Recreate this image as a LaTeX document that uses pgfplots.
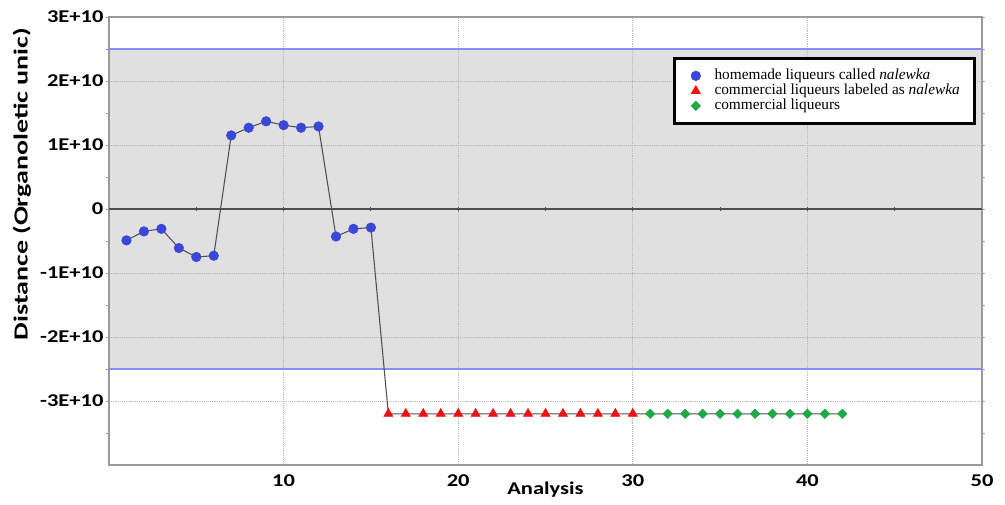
\documentclass[border=0pt]{standalone}
\usepackage{pgfplots}
\pgfplotsset{compat=1.18}
\usepackage{pgfplotstable}
\usepackage{fontspec}
\setmainfont{Liberation Serif}
\newfontfamily\labfont[FakeStretch=1.25]{Carlito}
\newfontfamily\ylabfont[FakeStretch=1.4]{Carlito}

\definecolor{band}{HTML}{E0E0E0}
\definecolor{limit}{HTML}{8C8CF5}
\definecolor{ptblue}{HTML}{3A48D8}
\definecolor{ptred}{HTML}{EE1111}
\definecolor{ptgreen}{HTML}{1FA846}
\definecolor{conn}{HTML}{505050}
\definecolor{frame}{HTML}{9A9A9A}

% analysis number, distance
\pgfplotstableread{
x y
1 -4.9e9
2 -3.5e9
3 -3.1e9
4 -6.1e9
5 -7.5e9
6 -7.3e9
7 1.15e10
8 1.27e10
9 1.37e10
10 1.31e10
11 1.27e10
12 1.29e10
13 -4.3e9
14 -3.1e9
15 -2.9e9
16 -3.2e10
17 -3.2e10
18 -3.2e10
19 -3.2e10
20 -3.2e10
21 -3.2e10
22 -3.2e10
23 -3.2e10
24 -3.2e10
25 -3.2e10
26 -3.2e10
27 -3.2e10
28 -3.2e10
29 -3.2e10
30 -3.2e10
31 -3.2e10
32 -3.2e10
33 -3.2e10
34 -3.2e10
35 -3.2e10
36 -3.2e10
37 -3.2e10
38 -3.2e10
39 -3.2e10
40 -3.2e10
41 -3.2e10
42 -3.2e10
}\dist

% marker only, with room before the text
\pgfplotsset{legmark/.style={legend image code/.code={
    \path[draw=none] (0pt,-1pt) rectangle (19pt,1pt);
    \draw[only marks] plot coordinates {(6pt,0pt)};}}}

\begin{document}
\begin{tikzpicture}
\begin{axis}[
    name=ax, at={(0,0)}, anchor=south west,
    set layers,
    scale only axis,
    width=654.75pt, height=336pt,
    xmin=0, xmax=50, ymin=-4e10, ymax=3e10,
    xtick={10,20,30,40,50},
    xticklabels={10,20,30,40,50},
    ytick={-3e10,-2e10,-1e10,0,1e10,2e10,3e10},
    yticklabels={-3E+10,-2E+10,-1E+10,0,1E+10,2E+10,3E+10},
    minor ytick={-3.5e10,-2.5e10,-1.5e10,-0.5e10,0.5e10,1.5e10,2.5e10},
    scaled y ticks=false,
    grid=major,
    grid style={densely dotted, gray!55, line width=0.6pt},
    axis line style={frame, line width=1pt},
    tick align=outside,
    major tick length=2.5pt, minor tick length=2pt,
    xtick style={draw=none},
    ytick style={frame, line width=0.6pt},
    tick label style={font=\labfont\bfseries\fontsize{13.5}{14}\selectfont},
    xticklabel style={anchor=base, yshift=-13.5pt},
    yticklabel style={inner xsep=1.5pt},
    xlabel={Analysis},
    xlabel style={at={(axis description cs:0.5,0)}, anchor=base, yshift=-22.5pt,
        font=\labfont\bfseries\fontsize{13.5}{14}\selectfont},
    ylabel={Distance (Organoletic unic)},
    ylabel style={at={(axis description cs:-0.0997,0.627)}, anchor=center,
        font=\ylabfont\bfseries\fontsize{15}{16}\selectfont},
    legend cell align=left,
    legend style={at={(0.993,0.911)}, anchor=north east,
        draw=black, line width=2.2pt, fill=white,
        inner xsep=10pt, inner ysep=7.5pt,
        font=\fontsize{11.5}{11.5}\selectfont,
        nodes={inner sep=1pt, text height=7.5pt, text depth=1.75pt}},
]
% acceptance band
\addplot[fill=band, draw=none, forget plot, on layer=axis background]
    coordinates {(0,-2.5e10) (50,-2.5e10) (50,2.5e10) (0,2.5e10)} -- cycle;
\addplot[limit, line width=1pt, forget plot] coordinates {(0,2.5e10) (50,2.5e10)};
\addplot[limit, line width=1pt, forget plot] coordinates {(0,-2.5e10) (50,-2.5e10)};
% zero line with its small ticks
\addplot[conn, line width=1pt, forget plot] coordinates {(0,0) (50,0)};
\addplot[conn, only marks, mark=|, mark size=1.5pt, line width=0.8pt, forget plot]
    coordinates {(5,0) (10,0) (15,0) (20,0) (25,0) (30,0) (35,0) (40,0) (45,0)};

\addplot[conn, line width=0.8pt, forget plot] table {\dist};
\addplot[only marks, legmark, mark=*, ptblue, line width=0.4pt, mark size=3.6pt]
    table[restrict x to domain=1:15] {\dist};
\addplot[only marks, legmark, mark=triangle*, ptred, line width=0.4pt, mark size=4pt]
    table[restrict x to domain=16:30] {\dist};
\addplot[only marks, legmark, mark=square*, mark options={rotate=45}, ptgreen,
    line width=0.4pt, mark size=2.5pt]
    table[restrict x to domain=31:42] {\dist};
\legend{homemade liqueurs called \textit{nalewka},
    commercial liqueurs labeled as \textit{nalewka},
    commercial liqueurs}
\end{axis}
\pgfresetboundingbox
\path (-81.75pt,-30pt) rectangle (672pt,348.75pt);
\end{tikzpicture}
\end{document}
